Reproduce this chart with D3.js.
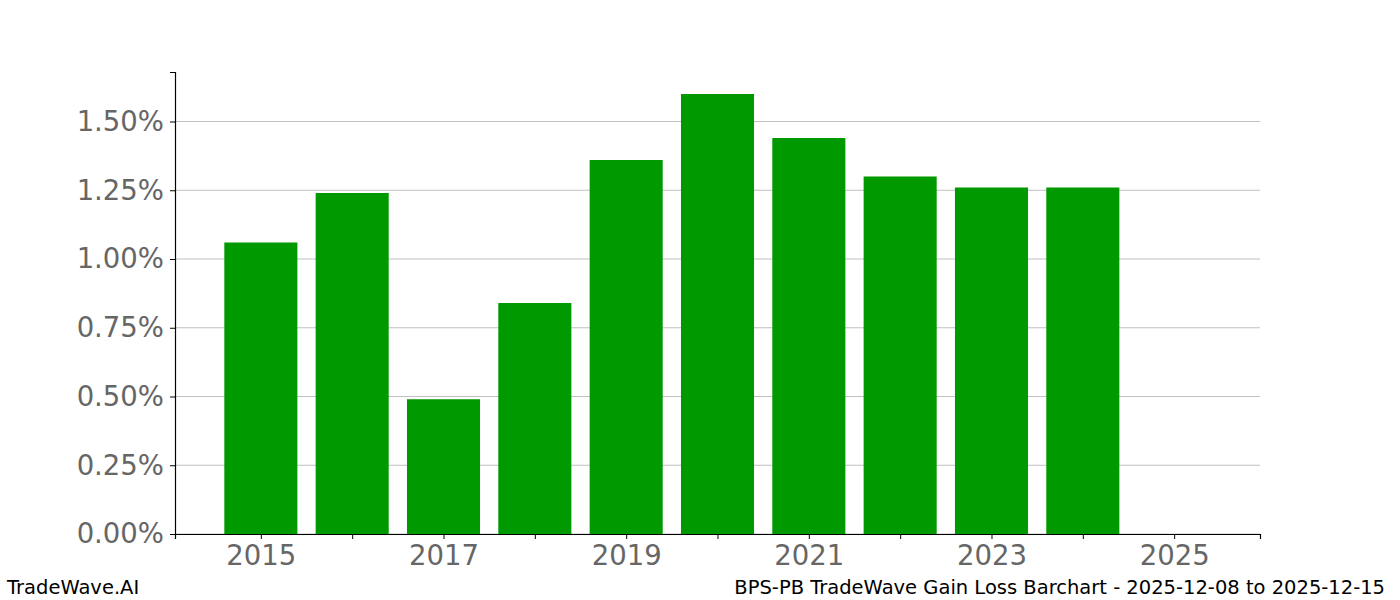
<!DOCTYPE html>
<html>
<head>
<meta charset="utf-8">
<style>
  body { margin: 0; background: #fff; }
  text { font-family: "DejaVu Sans", sans-serif; }
</style>
</head>
<body>
<div id="chart"></div>
<script src="https://cdn.jsdelivr.net/npm/d3@7"></script>
<script>
// data (percent gain per year)
var years = [2015, 2016, 2017, 2018, 2019, 2020, 2021, 2022, 2023, 2024, 2025]
var gains = [1.06, 1.24, 0.49, 0.84, 1.36, 1.60, 1.44, 1.30, 1.26, 1.26, 0]
var yTicks = [0, 0.25, 0.5, 0.75, 1.0, 1.25, 1.5]
var xLabelYears = [2015, 2017, 2019, 2021, 2023, 2025]

var W = 1400, H = 600
var margin = {top: 72, right: 140, bottom: 66, left: 175}
var width = W - margin.left - margin.right
var height = H - margin.top - margin.bottom

var svg = d3.select("#chart").append("svg")
  .attr("width", W).attr("height", H)

var g = svg.append("g")
  .attr("transform", "translate(" + margin.left + "," + margin.top + ")")

var x = d3.scaleLinear().domain([2014.06, 2025.94]).range([0, width])
var y = d3.scaleLinear().domain([0, 1.68]).range([height, 0])

// grid
g.selectAll(".grid").data(yTicks).enter().append("line")
  .attr("x1", 0).attr("x2", width)
  .attr("y1", d => y(d)).attr("y2", d => y(d))
  .attr("stroke", "#c0c0c0").attr("stroke-width", 1)

// bars
var bw = x(2014.8) - x(2014)
g.selectAll("rect").data(years.map((yr, i) => ({yr: yr, v: gains[i]}))).enter()
  .append("rect")
  .attr("x", d => x(d.yr) - bw / 2)
  .attr("width", bw)
  .attr("y", d => y(d.v))
  .attr("height", d => y(0) - y(d.v))
  .attr("fill", "#009900")

// axes
var xAxis = d3.axisBottom(x).tickValues(years)
  .tickFormat(d => xLabelYears.indexOf(d) >= 0 ? d : "")
  .tickSizeOuter(0).tickSize(5).tickPadding(6)
var yAxis = d3.axisLeft(y).tickValues(yTicks)
  .tickFormat(d => d.toFixed(2) + "%")
  .tickSizeOuter(0).tickSize(5).tickPadding(6)

var gx = g.append("g").attr("transform", "translate(0," + height + ")").call(xAxis)
var gy = g.append("g").call(yAxis)

gx.select(".domain").attr("stroke", "#000").attr("stroke-width", 1.2)
gy.select(".domain").attr("stroke", "#000").attr("stroke-width", 1.2)
gx.selectAll(".tick line").attr("stroke", "#000")
gy.selectAll(".tick line").attr("stroke", "#000")
svg.selectAll(".tick text")
  .style("font-family", "'DejaVu Sans', sans-serif")
  .attr("font-size", "27.5px").attr("fill", "#666666")

// footer
svg.append("text").attr("x", 7).attr("y", 594)
  .attr("font-size", "19.5px").attr("fill", "#000")
  .text("TradeWave.AI")
svg.append("text").attr("x", 1385).attr("y", 594)
  .attr("text-anchor", "end")
  .attr("font-size", "19.5px").attr("fill", "#000")
  .text("BPS-PB TradeWave Gain Loss Barchart - 2025-12-08 to 2025-12-15")
</script>
</body>
</html>
